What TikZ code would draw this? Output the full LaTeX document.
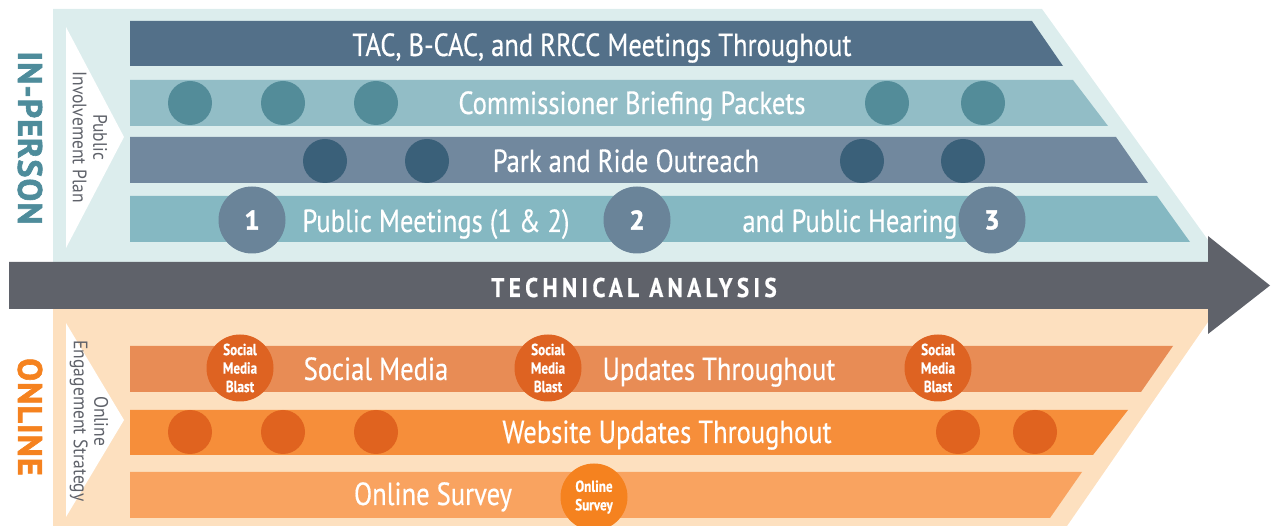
\documentclass[tikz,border=0pt]{standalone}
\usepackage{fontspec}
\setmainfont{PT Sans}
\newfontfamily\lblfont[FakeStretch=0.83,FakeBold=0.4]{PT Sans}
\newfontfamily\dotfont[FakeStretch=0.82,FakeBold=0.6]{PT Sans}
\newfontfamily\sidefont[FakeStretch=0.9]{PT Sans}
\newfontfamily\techfont[FakeStretch=0.86,LetterSpace=16,FakeBold=0.5]{PT Sans}
\newfontfamily\headfont[FakeBold=1.8,LetterSpace=3]{PT Sans}
\definecolor{panelblue}{HTML}{DCEDED}
\definecolor{panelpeach}{HTML}{FDE0BF}
\definecolor{rowA}{HTML}{537089}
\definecolor{rowB}{HTML}{92BDC6}
\definecolor{dotB}{HTML}{538C99}
\definecolor{rowC}{HTML}{71889E}
\definecolor{dotC}{HTML}{3A6079}
\definecolor{rowD}{HTML}{85B8C2}
\definecolor{numdot}{HTML}{6A8499}
\definecolor{arrowgrey}{HTML}{5F626A}
\definecolor{rowE}{HTML}{E88C55}
\definecolor{blastdot}{HTML}{DE6322}
\definecolor{rowF}{HTML}{F68E3A}
\definecolor{dotF}{HTML}{E0631F}
\definecolor{rowG}{HTML}{F9A360}
\definecolor{surveydot}{HTML}{F5821F}
\definecolor{inperson}{HTML}{4E8C9B}
\definecolor{onlinecol}{HTML}{F5821F}
\begin{document}
\begin{tikzpicture}[x=1pt,y=-1pt,
  smalldot/.style={circle,fill=#1,minimum size=44pt,inner sep=0pt},
  bigdot/.style={circle,fill=#1,minimum size=67pt,inner sep=0pt,text=white,font=\dotfont\bfseries\fontsize{16}{18.5}\selectfont,align=center},
  numdot/.style={circle,fill=numdot,minimum size=67pt,inner sep=0pt,text=white,font=\headfont\bfseries\fontsize{27}{30}\selectfont},
  bartext/.style={anchor=base,text=white,inner sep=0pt,font=\lblfont\fontsize{32}{36}\selectfont},
  sidetext/.style={rotate=-90,align=center,text=arrowgrey,inner sep=0pt,font=\sidefont\fontsize{19.5}{20.5}\selectfont},
  headtext/.style={rotate=-90,inner sep=0pt,font=\headfont\bfseries\fontsize{34}{36}\selectfont}]
\useasboundingbox (0,0) rectangle (1278,526);
\clip (0,0) rectangle (1278,526);
% panels
\fill[panelblue] (53,9) -- (1042,9) -- (1208,240) -- (1208,262) -- (53,262) -- cycle;
\fill[panelpeach] (53,309) -- (1208,309) -- (1208,322) -- (1067,526) -- (53,526) -- cycle;
% arrow
\fill[arrowgrey] (9,262) -- (1208,262) -- (1208,236) -- (1270,285.5) -- (1208,334) -- (1208,309) -- (9,309) -- cycle;
% white triangles
\fill[white] (66,27) -- (124,137) -- (66,248) -- cycle;
\fill[white] (66,323) -- (124,420) -- (66,517) -- cycle;
% bars
\fill[rowA] (130,21) -- (1032,21) -- (1063,66) -- (130,66) -- cycle;
\fill[rowB] (130,80) -- (1073,80) -- (1108,126) -- (130,126) -- cycle;
\fill[rowC] (130,137) -- (1116,137) -- (1148,183) -- (130,183) -- cycle;
\fill[rowD] (130,196) -- (1157,196) -- (1190,242) -- (130,242) -- cycle;
\fill[rowE] (130,346) -- (1173,346) -- (1141,392) -- (130,392) -- cycle;
\fill[rowF] (130,410) -- (1128,410) -- (1093,455) -- (130,455) -- cycle;
\fill[rowG] (130,472) -- (1082,472) -- (1050,518) -- (130,518) -- cycle;
% row 2 dots
\node[smalldot=dotB] (b1) at (190,103) {};
\node[smalldot=dotB] (b2) at (283,103) {};
\node[smalldot=dotB] (b3) at (376,103) {};
\node[smalldot=dotB] (b4) at (887,103) {};
\node[smalldot=dotB] (b5) at (983,103) {};
% row 3 dots
\node[smalldot=dotC] (c1) at (325,161) {};
\node[smalldot=dotC] (c2) at (427,161) {};
\node[smalldot=dotC] (c3) at (862,161) {};
\node[smalldot=dotC] (c4) at (963,161) {};
% row 4 numbered
\node[numdot] (n1) at (252,220) {1};
\node[numdot] (n2) at (637,220) {2};
\node[numdot] (n3) at (992,220) {3};
% row 5 blasts
\node[bigdot=blastdot] (s1) at (240,368) {Social\\Media\\Blast};
\node[bigdot=blastdot] (s2) at (548,368) {Social\\Media\\Blast};
\node[bigdot=blastdot] (s3) at (938,368) {Social\\Media\\Blast};
% row 6 dots
\node[smalldot=dotF] (f1) at (190,432) {};
\node[smalldot=dotF] (f2) at (283,432) {};
\node[smalldot=dotF] (f3) at (376,432) {};
\node[smalldot=dotF] (f4) at (958,432) {};
\node[smalldot=dotF] (f5) at (1035,432) {};
% row 7 survey
\node[bigdot=surveydot] (os) at (594,497) {Online\\Survey};
% bar texts
\node[bartext] (t1) at (602,56) {TAC, B-CAC, and RRCC Meetings Throughout};
\node[bartext] (t2) at (632,114) {Commissioner Briefing Packets};
\node[bartext] (t3) at (626,172) {Park and Ride Outreach};
\node[bartext] (t4a) at (436,232) {Public Meetings (1 \& 2)};
\node[bartext] (t4b) at (850,232) {and Public Hearing};
\node[bartext] (t5a) at (376,380) {Social Media};
\node[bartext] (t5b) at (719,380) {Updates Throughout};
\node[bartext] (t6) at (667,443) {Website Updates Throughout};
\node[bartext] (t7) at (433,505) {Online Survey};
\node[anchor=base,text=white,inner sep=0pt,font=\techfont\bfseries\fontsize{27}{29}\selectfont] (tech) at (634,297) {TECHNICAL ANALYSIS};
% side labels
\node[sidetext] (pip) at (90,137) {Public\\Involvement Plan};
\node[sidetext] (oes) at (89,421) {Online\\Engagement Strategy};
\node[headtext,text=inperson] (ip) at (30,138) {IN-PERSON};
\node[headtext,text=onlinecol] (ol) at (30,417) {ONLINE};
\end{tikzpicture}
\end{document}
